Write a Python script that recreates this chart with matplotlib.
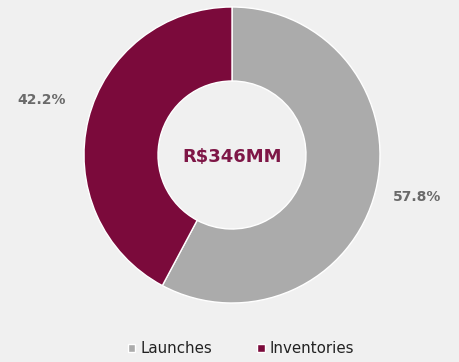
import matplotlib.pyplot as plt

# Sales split
labels = ["Launches", "Inventories"]
shares = [57.8, 42.2]
total_label = "R$346MM"
colors = ["#ababab", "#7b0a3b"]

bg = "#f0f0f0"
fig = plt.figure(figsize=(4.59, 3.62), dpi=100, facecolor=bg)
ax = fig.add_axes([0, 0, 1, 1])
ax.set_facecolor(bg)

wedges, _ = ax.pie(shares, colors=colors, startangle=90, counterclock=False,
                   center=(232, 207), radius=148, frame=True,
                   wedgeprops=dict(width=74, edgecolor="white", linewidth=1))
ax.set_xlim(0, 459)
ax.set_ylim(0, 362)
ax.axis("off")

ax.text(232, 205, total_label, ha="center", va="center", fontsize=13,
        fontweight="bold", color="#7e1646")

# percentage labels outside the ring
ax.text(42, 262, f"{shares[1]:.1f}%", ha="center", va="center", fontsize=10,
        fontweight="bold", color="#6a6a6a")
ax.text(417, 165, f"{shares[0]:.1f}%", ha="center", va="center", fontsize=10,
        fontweight="bold", color="#6a6a6a")

leg = ax.legend(wedges, labels, loc="center", bbox_to_anchor=(0.525, 0.037),
                ncol=2, frameon=False, fontsize=10.8, handlelength=0.5,
                handleheight=0.5, handletextpad=0.35, columnspacing=3.0)
for t in leg.get_texts():
    t.set_color("#222222")

fig.savefig("out.png", dpi=100, facecolor=bg)
